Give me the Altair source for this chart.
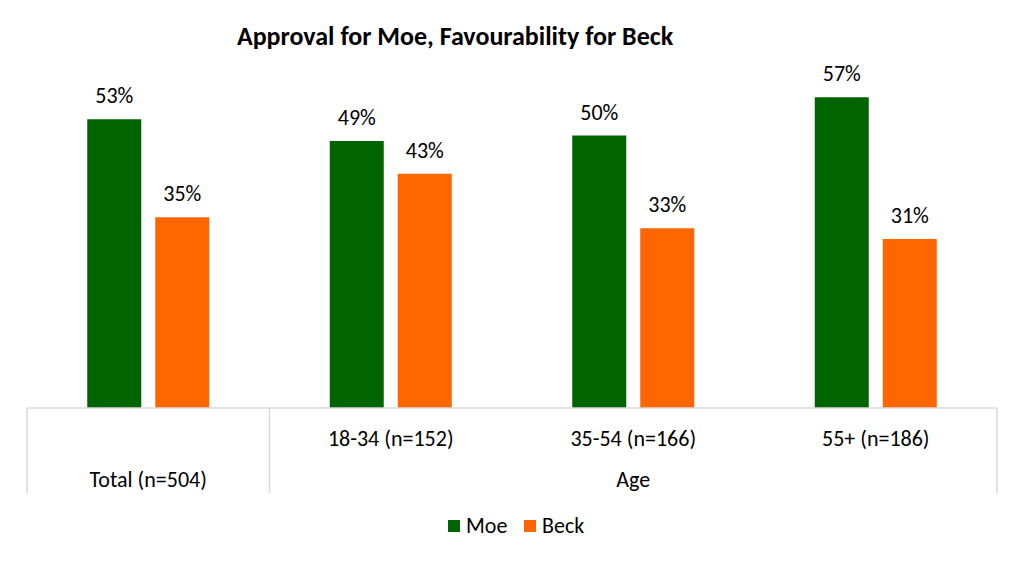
import altair as alt
import pandas as pd

# Survey data: approval for Moe and favourability for Beck, by group
categories = ["Total (n=504)", "18-34 (n=152)", "35-54 (n=166)", "55+ (n=186)"]
series_names = ["Moe", "Beck"]
moe_values = [53, 49, 50, 57]
beck_values = [35, 43, 33, 31]
colors = ["#006400", "#FF6600"]

title_text = "Approval for Moe, Favourability for Beck"
age_labels = ["18-34 (n=152)", "35-54 (n=166)", "55+ (n=186)"]
group_labels = [("Total (n=504)", "Total (n=504)"), ("35-54 (n=166)", "Age")]

FONT = "Carlito, Lato, sans-serif"
FS = 22
W, H = 970, 327

rows = []
for i, c in enumerate(categories):
    rows.append({"cat": c, "series": "Moe", "value": moe_values[i] / 100})
    rows.append({"cat": c, "series": "Beck", "value": beck_values[i] / 100})
bars_df = pd.DataFrame(rows)

x_enc = alt.X("cat:N", sort=categories, axis=None,
              scale=alt.Scale(paddingInner=0, paddingOuter=0))
xoff_enc = alt.XOffset("series:N", sort=series_names,
                       scale=alt.Scale(paddingInner=0.206, paddingOuter=0.886))
y_enc = alt.Y("value:Q", axis=None, scale=alt.Scale(domain=[0, 0.6]))

base = alt.Chart(bars_df)

bars = base.mark_bar().encode(
    x=x_enc,
    xOffset=xoff_enc,
    y=y_enc,
    color=alt.Color(
        "series:N",
        sort=series_names,
        scale=alt.Scale(domain=series_names, range=colors),
        legend=alt.Legend(
            title=None, orient="none", direction="horizontal",
            legendX=416, legendY=434, padding=0,
            symbolType="square", symbolSize=144, symbolStrokeWidth=0,
            labelFont=FONT, labelFontSize=FS, labelColor="#000000",
            columnPadding=11, labelOffset=1,
        ),
    ),
)

value_labels = base.mark_text(
    font=FONT, fontSize=FS, color="#000000", baseline="alphabetic", dy=-16
).encode(
    x=x_enc,
    xOffset=xoff_enc,
    y=y_enc,
    text=alt.Text("value:Q", format=".0%"),
)

# Category axis drawn as a two-row table below the baseline
line_color = "#D9D9D9"
baseline = alt.Chart(pd.DataFrame({"v": [0.0]})).mark_rule(
    color=line_color, strokeWidth=1.5
).encode(y=alt.Y("v:Q", scale=alt.Scale(domain=[0, 0.6]), axis=None),
         x=alt.value(0), x2=alt.value(W))

sep_df = pd.DataFrame({
    "cat": [categories[0], categories[1], categories[-1]],
    "pos": [0.0, 0.0, 1.0],
})
separators = []
for _, r in sep_df.iterrows():
    separators.append(
        alt.Chart(pd.DataFrame([r])).mark_rule(color=line_color, strokeWidth=1.5).encode(
            x=alt.X("cat:N", sort=categories, axis=None, bandPosition=float(r["pos"]),
                    scale=alt.Scale(paddingInner=0, paddingOuter=0)),
            y=alt.value(H),
            y2=alt.value(H + 85),
        )
    )

age_text = alt.Chart(pd.DataFrame({"cat": age_labels})).mark_text(
    font=FONT, fontSize=FS, color="#000000", baseline="alphabetic"
).encode(
    x=alt.X("cat:N", sort=categories, axis=None, bandPosition=0.5,
            scale=alt.Scale(paddingInner=0, paddingOuter=0)),
    y=alt.value(H + 38),
    text="cat:N",
)

group_df = pd.DataFrame({"cat": [g[0] for g in group_labels],
                         "label": [g[1] for g in group_labels]})
group_text = alt.Chart(group_df).mark_text(
    font=FONT, fontSize=FS, color="#000000", baseline="alphabetic"
).encode(
    x=alt.X("cat:N", sort=categories, axis=None, bandPosition=0.5,
            scale=alt.Scale(paddingInner=0, paddingOuter=0)),
    y=alt.value(H + 79),
    text="label:N",
)

title = alt.Chart(pd.DataFrame({"t": [title_text]})).mark_text(
    font=FONT, fontSize=26, fontWeight="bold", color="#000000", baseline="alphabetic"
).encode(x=alt.value(428), y=alt.value(-36), text="t:N")

chart = alt.layer(
    bars, value_labels, baseline, *separators, age_text, group_text, title
).properties(
    width=W, height=H,
    autosize=alt.AutoSizeParams(type="none"),
    padding={"left": 27, "top": 81, "right": 27, "bottom": 153},
    background="#FFFFFF",
).configure_view(stroke=None)

chart.save("out.html", embed_options={"renderer": "svg", "actions": False})
